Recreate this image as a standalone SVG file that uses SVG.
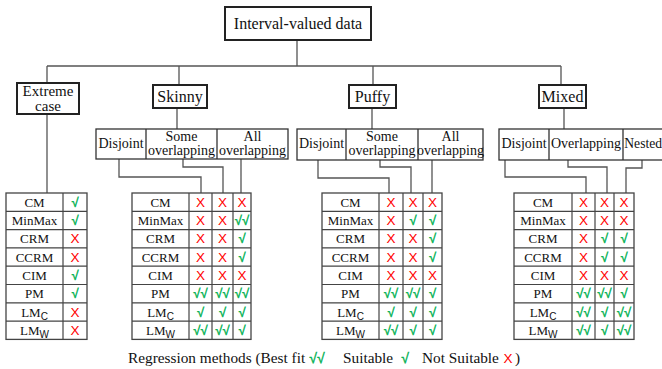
<svg xmlns="http://www.w3.org/2000/svg" width="662" height="369" viewBox="0 0 662 369" font-family="'Liberation Serif','DejaVu Serif','Times New Roman',serif">
<style>
.bg{fill:#fff}
.box{fill:#fff;stroke:#222;stroke-width:2}
.sub{fill:#fff;stroke:#333;stroke-width:1.3}
.tb{fill:#fff;stroke:#444;stroke-width:1.3}
.gl{stroke:#444;stroke-width:1.2;fill:none}
.con{stroke:#555;stroke-width:1.3;fill:none}
text{font-family:'Liberation Serif','DejaVu Serif','Times New Roman',serif;fill:#111;text-anchor:middle}
.t16{font-size:16px}
.t15{font-size:15px}
.t14{font-size:14px}
.t135{font-size:13.6px}
.t13{font-size:13px}
.st{text-anchor:start}
.sb{font-size:10px;font-family:'Liberation Sans',Arial,sans-serif}
.ok{font-family:'Liberation Sans',Arial,sans-serif;font-size:13px;fill:#00b050;stroke:#00b050;stroke-width:0.4}
.no{font-family:'Liberation Sans',Arial,sans-serif;font-size:13.5px;fill:#ff0000}
.lg{font-size:15.3px;text-anchor:start}
</style>
<rect class="bg" x="0" y="0" width="662" height="369"/>

<g id="connectors">
<path class="con" d="M297,40 V66 M47,66 H561 M47,66 V83 M179,66 V85 M373,66 V85 M561,66 V85"/>
<path class="con" d="M47,114 V193"/>
<path class="con" d="M177,108 V129 M372,108 V129 M564,108 V129"/>
<path class="con" d="M119,159 V177 H201 V193 M183,159 V167 H223 V193 M241,159 V193"/>
<path class="con" d="M318,160 V178 H389 V193 M380,160 V167 H411 V193 M432,160 V193"/>
<path class="con" d="M505,160 V177 H586 V193 M568,160 V167 H607 V193 M642,160 V168 H626 V193"/>
</g>

<g id="root">
<rect class="box" x="225" y="7" width="146" height="33"/>
<text class="t16" x="298" y="29">Interval-valued data</text>
</g>

<g id="extreme">
<rect class="box" x="17" y="83" width="62" height="31"/>
<text class="t15" x="48" y="96">Extreme</text>
<text class="t15" x="48" y="110.5">case</text>
</g>
<g id="skinny">
<rect class="box" x="153" y="85" width="54" height="23"/>
<text class="t16" x="180" y="102">Skinny</text>
</g>
<g id="puffy">
<rect class="box" x="349" y="85" width="47" height="23"/>
<text class="t16" x="372.5" y="102">Puffy</text>
</g>
<g id="mixed">
<rect class="box" x="539" y="85" width="47" height="23"/>
<text class="t16" x="562.5" y="102">Mixed</text>
</g>

<g id="skinny-sub">
<rect class="sub" x="96" y="129" width="192" height="30"/>
<path class="sub" d="M146,129 V159 M217,129 V159"/>
<text class="t14" x="121" y="148">Disjoint</text>
<text class="t14" x="181.5" y="141">Some</text>
<text class="t14" x="181.5" y="155">overlapping</text>
<text class="t14" x="252.5" y="141">All</text>
<text class="t14" x="252.5" y="155">overlapping</text>
</g>
<g id="puffy-sub">
<rect class="sub" x="297" y="129" width="186" height="31"/>
<path class="sub" d="M346,129 V160 M418,129 V160"/>
<text class="t14" x="321.5" y="148">Disjoint</text>
<text class="t14" x="382" y="141">Some</text>
<text class="t14" x="382" y="155">overlapping</text>
<text class="t14" x="450.5" y="141">All</text>
<text class="t14" x="450.5" y="155">overlapping</text>
</g>
<g id="mixed-sub">
<rect class="sub" x="499" y="129" width="175" height="31"/>
<path class="sub" d="M549,129 V160 M623,129 V160"/>
<text class="t14" x="524" y="148">Disjoint</text>
<text class="t14" x="586" y="148">Overlapping</text>
<text class="t135 st" x="624.3" y="148">Nested</text>
</g>

<g id="table-extreme">
<rect class="tb" x="6" y="193" width="81" height="146.4"/>
<path class="gl" d="M63,193 V339.4 M6,211.3 H87 M6,229.6 H87 M6,247.9 H87 M6,266.2 H87 M6,284.5 H87 M6,302.8 H87 M6,321.1 H87"/>
<g class="t13">
<text x="34.5" y="206.7">CM</text>
<text x="34.5" y="225">MinMax</text>
<text x="34.5" y="243.3">CRM</text>
<text x="34.5" y="261.6">CCRM</text>
<text x="34.5" y="279.9">CIM</text>
<text x="34.5" y="298.2">PM</text>
<text x="34.5" y="316.5">LM<tspan class="sb" dy="3">C</tspan></text>
<text x="34.5" y="334.8">LM<tspan class="sb" dy="3">W</tspan></text>
</g>
<text class="ok" x="75" y="206.7">√</text>
<text class="ok" x="75" y="225">√</text>
<text class="no" x="75" y="243.3">X</text>
<text class="no" x="75" y="261.6">X</text>
<text class="ok" x="75" y="279.9">√</text>
<text class="ok" x="75" y="298.2">√</text>
<text class="no" x="75" y="316.5">X</text>
<text class="no" x="75" y="334.8">X</text>
</g>

<g id="table-skinny">
<rect class="tb" x="132" y="193" width="119" height="146.4"/>
<path class="gl" d="M189,193 V339.4 M212,193 V339.4 M233,193 V339.4 M132,211.3 H251 M132,229.6 H251 M132,247.9 H251 M132,266.2 H251 M132,284.5 H251 M132,302.8 H251 M132,321.1 H251"/>
<g class="t13">
<text x="160.5" y="206.7">CM</text>
<text x="160.5" y="225">MinMax</text>
<text x="160.5" y="243.3">CRM</text>
<text x="160.5" y="261.6">CCRM</text>
<text x="160.5" y="279.9">CIM</text>
<text x="160.5" y="298.2">PM</text>
<text x="160.5" y="316.5">LM<tspan class="sb" dy="3">C</tspan></text>
<text x="160.5" y="334.8">LM<tspan class="sb" dy="3">W</tspan></text>
</g>
<text class="no" x="200.5" y="206.7">X</text><text class="no" x="222.5" y="206.7">X</text><text class="no" x="242" y="206.7">X</text>
<text class="no" x="200.5" y="225">X</text><text class="no" x="222.5" y="225">X</text><text class="ok" x="242" y="225">√√</text>
<text class="no" x="200.5" y="243.3">X</text><text class="no" x="222.5" y="243.3">X</text><text class="ok" x="242" y="243.3">√</text>
<text class="no" x="200.5" y="261.6">X</text><text class="no" x="222.5" y="261.6">X</text><text class="ok" x="242" y="261.6">√</text>
<text class="no" x="200.5" y="279.9">X</text><text class="no" x="222.5" y="279.9">X</text><text class="no" x="242" y="279.9">X</text>
<text class="ok" x="200.5" y="298.2">√√</text><text class="ok" x="222.5" y="298.2">√√</text><text class="ok" x="242" y="298.2">√√</text>
<text class="ok" x="200.5" y="316.5">√</text><text class="ok" x="222.5" y="316.5">√</text><text class="ok" x="242" y="316.5">√</text>
<text class="ok" x="200.5" y="334.8">√√</text><text class="ok" x="222.5" y="334.8">√√</text><text class="ok" x="242" y="334.8">√</text>
</g>

<g id="table-puffy">
<rect class="tb" x="322" y="193" width="120" height="146.4"/>
<path class="gl" d="M379,193 V339.4 M403,193 V339.4 M423,193 V339.4 M322,211.3 H442 M322,229.6 H442 M322,247.9 H442 M322,266.2 H442 M322,284.5 H442 M322,302.8 H442 M322,321.1 H442"/>
<g class="t13">
<text x="350.5" y="206.7">CM</text>
<text x="350.5" y="225">MinMax</text>
<text x="350.5" y="243.3">CRM</text>
<text x="350.5" y="261.6">CCRM</text>
<text x="350.5" y="279.9">CIM</text>
<text x="350.5" y="298.2">PM</text>
<text x="350.5" y="316.5">LM<tspan class="sb" dy="3">C</tspan></text>
<text x="350.5" y="334.8">LM<tspan class="sb" dy="3">W</tspan></text>
</g>
<text class="no" x="391" y="206.7">X</text><text class="no" x="413" y="206.7">X</text><text class="no" x="432.5" y="206.7">X</text>
<text class="no" x="391" y="225">X</text><text class="ok" x="413" y="225">√</text><text class="ok" x="432.5" y="225">√</text>
<text class="no" x="391" y="243.3">X</text><text class="no" x="413" y="243.3">X</text><text class="ok" x="432.5" y="243.3">√</text>
<text class="no" x="391" y="261.6">X</text><text class="no" x="413" y="261.6">X</text><text class="ok" x="432.5" y="261.6">√</text>
<text class="no" x="391" y="279.9">X</text><text class="no" x="413" y="279.9">X</text><text class="no" x="432.5" y="279.9">X</text>
<text class="ok" x="391" y="298.2">√√</text><text class="ok" x="413" y="298.2">√√</text><text class="ok" x="432.5" y="298.2">√</text>
<text class="ok" x="391" y="316.5">√</text><text class="ok" x="413" y="316.5">√</text><text class="ok" x="432.5" y="316.5">√</text>
<text class="ok" x="391" y="334.8">√√</text><text class="ok" x="413" y="334.8">√</text><text class="ok" x="432.5" y="334.8">√</text>
</g>

<g id="table-mixed">
<rect class="tb" x="514" y="193" width="120" height="146.4"/>
<path class="gl" d="M572,193 V339.4 M595,193 V339.4 M614,193 V339.4 M514,211.3 H634 M514,229.6 H634 M514,247.9 H634 M514,266.2 H634 M514,284.5 H634 M514,302.8 H634 M514,321.1 H634"/>
<g class="t13">
<text x="543" y="206.7">CM</text>
<text x="543" y="225">MinMax</text>
<text x="543" y="243.3">CRM</text>
<text x="543" y="261.6">CCRM</text>
<text x="543" y="279.9">CIM</text>
<text x="543" y="298.2">PM</text>
<text x="543" y="316.5">LM<tspan class="sb" dy="3">C</tspan></text>
<text x="543" y="334.8">LM<tspan class="sb" dy="3">W</tspan></text>
</g>
<text class="no" x="583.5" y="206.7">X</text><text class="no" x="604.5" y="206.7">X</text><text class="no" x="624" y="206.7">X</text>
<text class="no" x="583.5" y="225">X</text><text class="no" x="604.5" y="225">X</text><text class="no" x="624" y="225">X</text>
<text class="no" x="583.5" y="243.3">X</text><text class="ok" x="604.5" y="243.3">√</text><text class="ok" x="624" y="243.3">√</text>
<text class="no" x="583.5" y="261.6">X</text><text class="ok" x="604.5" y="261.6">√</text><text class="ok" x="624" y="261.6">√</text>
<text class="no" x="583.5" y="279.9">X</text><text class="no" x="604.5" y="279.9">X</text><text class="no" x="624" y="279.9">X</text>
<text class="ok" x="583.5" y="298.2">√√</text><text class="ok" x="604.5" y="298.2">√√</text><text class="ok" x="624" y="298.2">√</text>
<text class="ok" x="583.5" y="316.5">√√</text><text class="ok" x="604.5" y="316.5">√</text><text class="ok" x="624" y="316.5">√√</text>
<text class="ok" x="583.5" y="334.8">√√</text><text class="ok" x="604.5" y="334.8">√</text><text class="ok" x="624" y="334.8">√√</text>
</g>

<g id="legend">
<text class="lg" x="128" y="363">Regression methods (Best fit</text>
<text class="ok" x="317" y="363" style="font-size:14px">√√</text>
<text class="lg" x="343" y="363">Suitable</text>
<text class="ok" x="405" y="363" style="font-size:14px">√</text>
<text class="lg" x="422" y="363">Not Suitable</text>
<text class="no" x="508" y="363">X</text>
<text class="lg" x="515" y="363">)</text>
</g>
</svg>
